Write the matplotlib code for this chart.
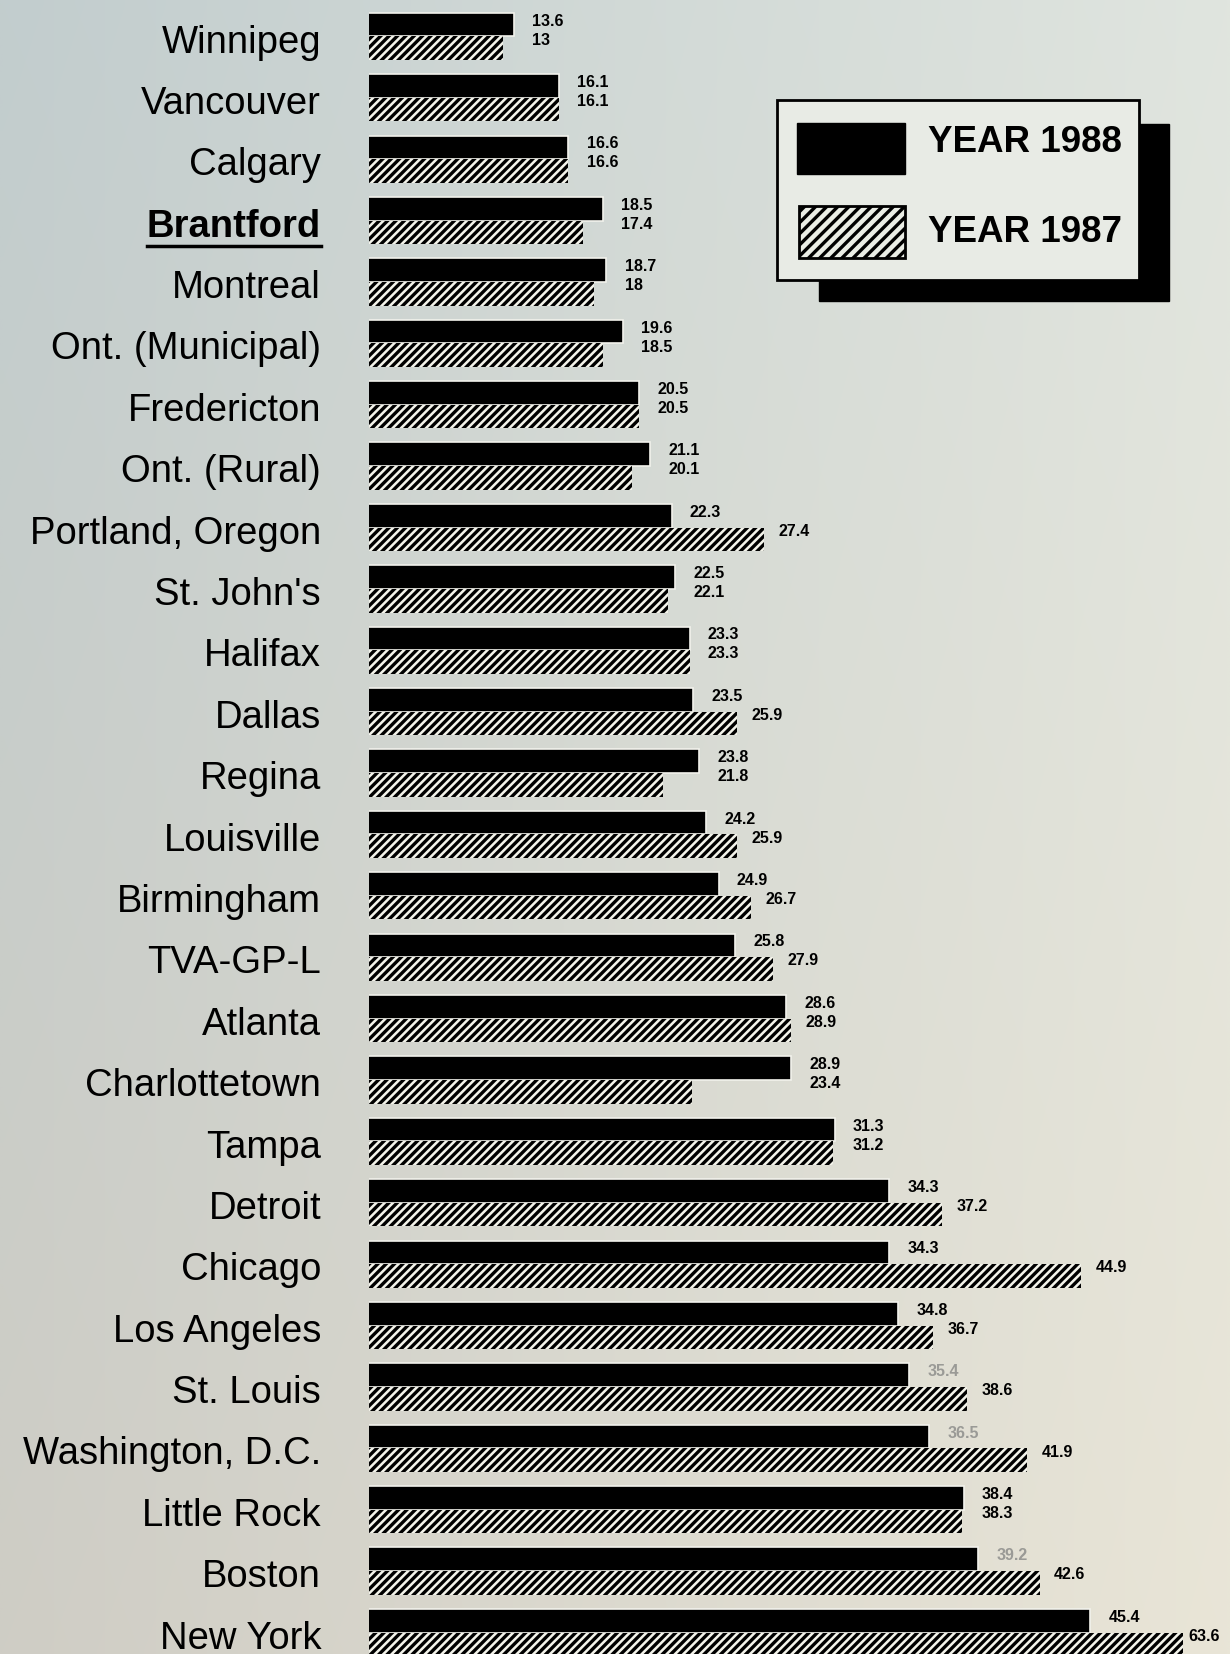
import numpy as np
import matplotlib.pyplot as plt
from matplotlib.patches import Rectangle
from matplotlib.lines import Line2D
import matplotlib.transforms as mtransforms

plt.rcParams['font.family'] = ['Liberation Sans', 'DejaVu Sans']
plt.rcParams['hatch.linewidth'] = 2.4

cities = ["Winnipeg", "Vancouver", "Calgary", "Brantford", "Montreal",
          "Ont. (Municipal)", "Fredericton", "Ont. (Rural)", "Portland, Oregon",
          "St. John's", "Halifax", "Dallas", "Regina", "Louisville", "Birmingham",
          "TVA-GP-L", "Atlanta", "Charlottetown", "Tampa", "Detroit", "Chicago",
          "Los Angeles", "St. Louis", "Washington, D.C.", "Little Rock", "Boston",
          "New York"]
year_1988 = [13.6, 16.1, 16.6, 18.5, 18.7, 19.6, 20.5, 21.1, 22.3, 22.5, 23.3,
             23.5, 23.8, 24.2, 24.9, 25.8, 28.6, 28.9, 31.3, 34.3, 34.3, 34.8,
             35.4, 36.5, 38.4, 39.2, 45.4]
year_1987 = [13, 16.1, 16.6, 17.4, 18, 18.5, 20.5, 20.1, 27.4, 22.1, 23.3,
             25.9, 21.8, 25.9, 26.7, 27.9, 28.9, 23.4, 31.2, 37.2, 44.9, 36.7,
             38.6, 41.9, 38.3, 42.6, 63.6]
highlight = "Brantford"
# 1988 labels that came out faded in the original print
faded = ["St. Louis", "Washington, D.C.", "Boston"]

XMIN, XMAX = 5.6, 53.1
CAP = 50.5  # longest bar is drawn broken at this value

W, H = 1230, 1654
fig = plt.figure(figsize=(W / 100, H / 100), dpi=100)

# paper background
bg = fig.add_axes([0, 0, 1, 1], zorder=0)
tl, tr = np.array([194, 205, 206]), np.array([224, 229, 223])
bl, br = np.array([207, 205, 197]), np.array([233, 229, 215])
u = np.linspace(0, 1, 200)[None, :, None]
v = np.linspace(0, 1, 200)[:, None, None]
grad = (tl * (1 - u) * (1 - v) + tr * u * (1 - v) + bl * (1 - u) * v + br * u * v) / 255
bg.imshow(grad, aspect='auto', extent=[0, 1, 0, 1], interpolation='bilinear')
bg.axis('off')

left = 369 / W
ax = fig.add_axes([left, 0, 1 - left, 1], zorder=1)
ax.patch.set_alpha(0)
n = len(cities)
y = np.arange(n)
h = 0.385
ax.barh(y - h / 2, year_1988, height=h, color='black', edgecolor='#f2f2ec', linewidth=1.2)
ax.barh(y + h / 2, np.minimum(year_1987, CAP), height=h, facecolor='#f3f3ea',
        edgecolor='black', linewidth=0, hatch='////')
ax.set_xlim(XMIN, XMAX)
ax.set_ylim(26.35, -0.593)
ax.axis('off')

lab_tr = mtransforms.blended_transform_factory(fig.transFigure, ax.transData)
for i, city in enumerate(cities):
    bold = city == highlight
    t = ax.text(321 / W, i + 0.10, city, transform=lab_tr, ha='right', va='center',
                fontsize=27.5, fontweight='bold' if bold else 'normal', clip_on=False)
    if bold:
        fig.canvas.draw()
        bb = t.get_window_extent(renderer=fig.canvas.get_renderer())
        yy = bb.y0 - 1
        fig.add_artist(Line2D([bb.x0 / W, bb.x1 / W], [yy / H, yy / H],
                              transform=fig.transFigure, color='black', lw=2.5))

    a, b = year_1988[i], year_1987[i]
    col = '#9a9a96' if city in faded else 'black'
    ax.text(a + 1.0, i - 0.25, f"{a:g}", fontsize=11.5, fontweight='bold',
            color=col, va='center', ha='left', clip_on=False)
    if b > CAP:
        bx = CAP + 0.3
    elif b > a:
        bx = b + 0.8
    else:
        bx = a + 1.0
    ax.text(bx, i + 0.06, f"{b:g}", fontsize=11.5, fontweight='bold',
            va='center', ha='left', clip_on=False)

# legend box with drop shadow
ov = fig.add_axes([0, 0, 1, 1], zorder=3)
ov.set_xlim(0, W)
ov.set_ylim(H, 0)
ov.axis('off')
ov.add_patch(Rectangle((819, 124), 350, 177, color='black'))
ov.add_patch(Rectangle((777, 100), 362, 180, facecolor='#e8ebe5', edgecolor='black', lw=2))
ov.add_patch(Rectangle((797, 123), 108, 51, color='black'))
ov.add_patch(Rectangle((799, 206), 106, 52, facecolor='#eaede5', edgecolor='black',
                       lw=2, hatch='///'))
ov.text(928, 142, "YEAR 1988", fontsize=26.5, fontweight='bold', va='center')
ov.text(928, 233, "YEAR 1987", fontsize=26.5, fontweight='bold', va='center')

fig.savefig("out.png", dpi=100)
